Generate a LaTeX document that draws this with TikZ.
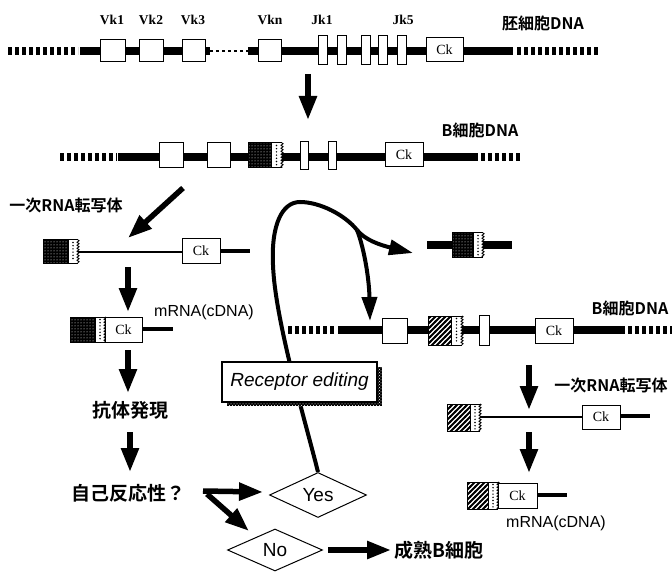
\documentclass[tikz,border=0pt]{standalone}
\usepackage{fontspec}
\setmainfont{Liberation Serif}
\setsansfont{Liberation Sans}
\newfontfamily\cjk[BoldFont={Noto Sans CJK JP Bold}]{Noto Sans CJK JP}
\usetikzlibrary{arrows.meta,patterns,shapes.geometric,decorations.pathmorphing}
\pgfdeclarepatternformonly{hatchthick}{\pgfqpoint{-1pt}{-1pt}}{\pgfqpoint{6pt}{6pt}}{\pgfqpoint{5pt}{5pt}}{%
  \pgfsetlinewidth{2pt}\pgfpathmoveto{\pgfqpoint{-1pt}{-1pt}}\pgfpathlineto{\pgfqpoint{6pt}{6pt}}\pgfusepath{stroke}}
% block: x1 (body start), x2 (body end), x3 (notch end), y1, y2
\newcommand\notchpart[5]{%
  \fill[white] (#2,#4) rectangle (#3,#5);
  \draw[line width=1pt] (#3,#4) -- (#1,#4) -- (#1,#5) -- (#3,#5);
  \draw[line width=0.8pt] (#2,#4) -- (#2,#5);
  \draw[line width=0.9pt, decorate, decoration={zigzag, amplitude=1pt, segment length=3pt}] (#3,#4) -- (#3,#5);
  \draw[line width=1.6pt, dash pattern=on 0pt off 3.2pt, line cap=round] ({(#2+#3)/2},{#4+2.5}) -- ({(#2+#3)/2},{#5-1.5});
}
\newcommand\stipblk[5]{%
  \fill[black] (#1,#4) rectangle (#2,#5);
  \fill[pattern=dots, pattern color=white] (#1,#4) rectangle (#2,#5);
  \notchpart{#1}{#2}{#3}{#4}{#5}}
\newcommand\hatchblk[5]{%
  \fill[white] (#1,#4) rectangle (#2,#5);
  \fill[pattern=hatchthick] (#1,#4) rectangle (#2,#5);
  \notchpart{#1}{#2}{#3}{#4}{#5}}
\begin{document}
\begin{tikzpicture}[x=1pt,y=-1pt,
 dna/.style={line width=8pt},
 dnadash/.style={line width=8pt, dash pattern=on 4pt off 3pt},
 rna/.style={line width=2.5pt},
 tailline/.style={line width=4pt},
 exon/.style={draw, fill=white, line width=1pt, inner sep=0pt},
 fat/.style={line width=5.5pt, -{Triangle[width=17pt,length=24pt]}},
 curv/.style={line width=4pt, -{Triangle[width=15pt,length=24pt]}},
 vlab/.style={font=\bfseries\fontsize{13.5}{15}\selectfont},
 cklab/.style={font=\fontsize{14}{16}\selectfont},
 jl/.style={font=\cjk\bfseries\fontsize{16}{18}\selectfont},
 jL/.style={font=\cjk\bfseries\fontsize{19}{21}\selectfont},
 slab/.style={font=\sffamily\fontsize{16}{18}\selectfont},
 dia/.style={diamond, draw, line width=1pt, fill=white, inner sep=0pt, font=\sffamily\fontsize{19}{21}\selectfont}
]
\useasboundingbox (0,0) rectangle (672,572);

% ---------- Row 1: germline DNA ----------
\draw[dnadash] (8,51) -- (78,51);
\draw[dna] (80,51) -- (210,51);
\draw[line width=1.5pt, dash pattern=on 3pt off 3pt] (210,51) -- (248,51);
\draw[dna] (248,51) -- (513,51);
\draw[dnadash] (517,51) -- (600,51);
\node[exon, minimum width=25pt, minimum height=22pt] (vk1) at (112.5,51) {};
\node[exon, minimum width=24pt, minimum height=22pt] (vk2) at (151,51) {};
\node[exon, minimum width=23pt, minimum height=22pt] (vk3) at (193.5,51) {};
\node[exon, minimum width=23pt, minimum height=22pt] (vkn) at (269.5,51) {};
\foreach \xx/\nm in {322.5/j1,341.5/j2,365.5/j3,383/j4,402/j5}
  \node[exon, minimum width=9pt, minimum height=29pt] (\nm) at (\xx,50) {};
\node[exon, minimum width=37pt, minimum height=24pt, cklab] (ck1) at (444.5,50) {Ck};
\node[vlab] (lvk1) at (112,20) {Vk1};
\node[vlab] (lvk2) at (151,20) {Vk2};
\node[vlab] (lvk3) at (193,20) {Vk3};
\node[vlab] (lvkn) at (270,20) {Vkn};
\node[vlab] (ljk1) at (322,20) {Jk1};
\node[vlab] (ljk5) at (403,20) {Jk5};
\node[jl] (lgerm) at (543,23) {胚細胞DNA};

\draw[fat] (308,74) -- (308,120);

% ---------- Row 2: B cell DNA ----------
\draw[dnadash] (60,157) -- (117,157);
\draw[dna] (118,157) -- (478,157);
\draw[dnadash] (481,157) -- (522,157);
\node[exon, minimum width=24pt, minimum height=25pt] (b1) at (171,155.5) {};
\node[exon, minimum width=23pt, minimum height=25pt] (b2) at (218.5,155.5) {};
\stipblk{248}{271}{282}{143}{168}
\node[exon, minimum width=8pt, minimum height=28pt] (bj1) at (304,156) {};
\node[exon, minimum width=8pt, minimum height=28pt] (bj2) at (332,156) {};
\node[exon, minimum width=38pt, minimum height=24pt, cklab] (ck2) at (404,155) {Ck};
\node[jl] (lbdna) at (480,130) {B細胞DNA};

\draw[fat] (183,188) -- (128,238);
\node[jl] (lpri1) at (66,205) {一次RNA転写体};

% ---------- Left transcript ----------
\draw[rna] (78,252) -- (182,252);
\draw[tailline] (220,251) -- (250,251);
\stipblk{43}{68}{78}{240}{263}
\node[exon, minimum width=38pt, minimum height=24pt, cklab] (ck3) at (201,251) {Ck};
\draw[fat] (128,267) -- (128,312);
% mRNA
\draw[tailline] (142,329) -- (173,329);
\stipblk{70}{95}{105}{317}{342}
\node[exon, minimum width=37pt, minimum height=25pt, cklab] (ck4) at (123.5,329.5) {Ck};
\node[slab] (lmrna1) at (204,312) {mRNA(cDNA)};
\draw[fat] (128,350) -- (128,393);
\node[jL] (lab) at (130,410) {抗体発現};
\draw[fat] (130,432) -- (130,472);
\node[jL] (lself) at (128,493) {自己反応性？};

% ---------- Decisions ----------
\node[dia, minimum width=97pt, minimum height=45pt] (yes) at (318,495) {Yes};
\node[dia, minimum width=95pt, minimum height=42pt] (no) at (275,550) {No};
\coordinate (s1) at (203,491);
\coordinate (s2) at (207,494);
\coordinate (yesin) at (263,492);
\coordinate (noin) at (249,531);
\draw[fat] (s1) -- (yesin);
\draw[fat] (s2) -- (noin);
\coordinate (noout) at (328,550);
\node[jL] (lmature) at (439,550) {成熟B細胞};
\draw[fat] (noout) -- (lmature.west);

% ---------- Receptor editing curve ----------
\coordinate (br) at (357,230);
\draw[line width=4pt] (yes.north) .. controls (305,420) and (275,320) .. (273,265)
   .. controls (271,225) and (282,202) .. (300,202)
   .. controls (320,202) and (345,215) .. (br);
\draw[curv] (br) .. controls (365,240) and (380,245) .. (413,253);
\draw[curv] (br) .. controls (363,245) and (369,275) .. (370,321);

% Receptor editing box
\fill[black] (227,367) rectangle (382,406);
\fill[pattern=crosshatch dots, pattern color=white] (227,367) rectangle (382,406);
\node[draw, fill=white, line width=1.2pt, minimum width=155pt, minimum height=40pt, inner sep=0pt,
  font=\sffamily\itshape\fontsize{19}{21}\selectfont] (re) at (299.5,382) {Receptor editing};

% ---------- Excised fragment ----------
\draw[dna] (427,245) -- (512,245);
\stipblk{452}{473}{483}{233}{257}

% ---------- Right B cell DNA ----------
\draw[dnadash] (288,330) -- (336,330);
\draw[dna] (338,330) -- (625,330);
\draw[dnadash] (628,330) -- (672,330);
\node[exon, minimum width=25pt, minimum height=25pt] (rb1) at (394.5,330.5) {};
\hatchblk{428}{451}{462}{316}{345}
\node[exon, minimum width=10pt, minimum height=30pt] (rbj) at (484,330) {};
\node[exon, minimum width=38pt, minimum height=25pt, cklab] (ck5) at (554,330.5) {Ck};
\node[jl] (lbdna2) at (630,308) {B細胞DNA};

\draw[fat] (529,365) -- (529,410);
\node[jl] (lpri2) at (611,385) {一次RNA転写体};

% Right transcript
\draw[rna] (480,417) -- (582,417);
\draw[line width=3.5pt] (620,416) -- (650,416);
\hatchblk{447}{470}{480}{404}{431}
\node[exon, minimum width=38pt, minimum height=24pt, cklab] (ck6) at (601,417) {Ck};
\draw[fat] (529,432) -- (529,473);

% Right mRNA
\draw[tailline] (537,495) -- (567,495);
\hatchblk{467}{488}{498}{482}{509}
\node[exon, minimum width=39pt, minimum height=25pt, cklab] (ck7) at (517.5,495.5) {Ck};
\node[slab] (lmrna2) at (556,523) {mRNA(cDNA)};

\end{tikzpicture}
\end{document}
